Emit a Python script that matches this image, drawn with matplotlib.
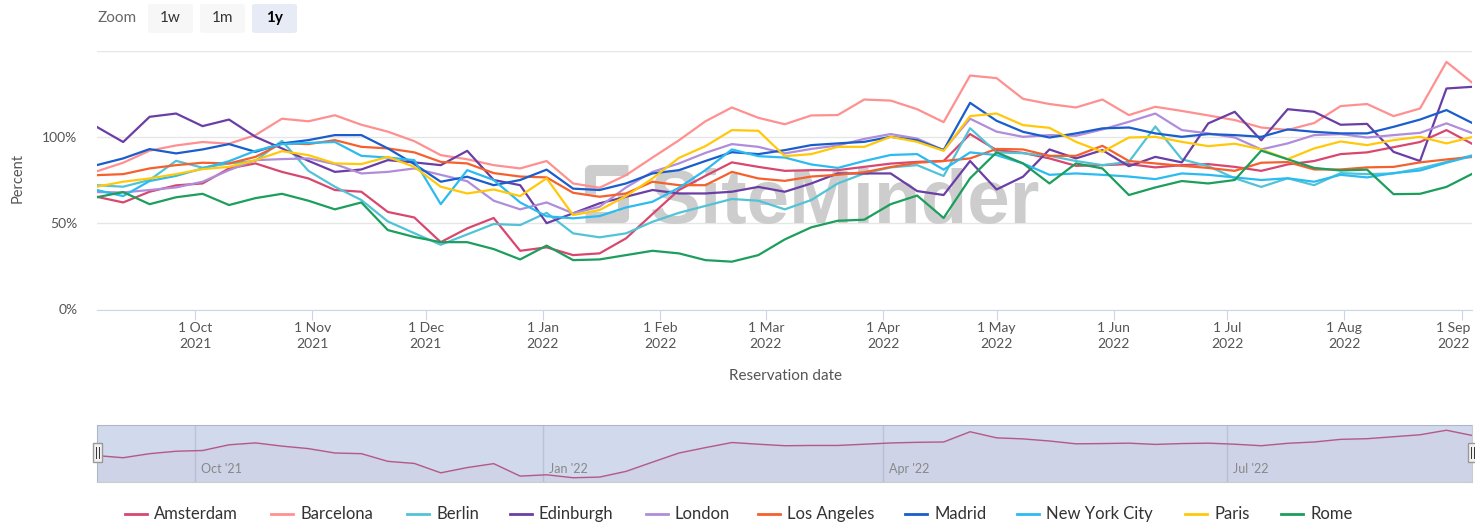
import numpy as np
import pandas as pd
import matplotlib
matplotlib.use("Agg")
import matplotlib.pyplot as plt
from matplotlib.patches import FancyBboxPatch, Rectangle
from matplotlib.lines import Line2D
from matplotlib.transforms import ScaledTranslation

plt.rcParams["font.family"] = ["Lato", "DejaVu Sans"]

#---------------------------------------------------------------------------
#                               DATA (weekly readings, percent)
#---------------------------------------------------------------------------

dates = pd.date_range("2021-09-05", periods=53, freq="7D")

amsterdam = [65.3, 62, 68.2, 71.9, 73, 81.7, 84.6, 79.7, 75.9, 69.2, 68.2, 56.5, 53.3, 39, 47, 53, 34, 36,
             31.5, 32.5, 41.2, 55.3, 69.2, 77.4, 85.2, 82.6, 80.3, 80.7, 80.7, 82.6, 84.5, 85.5, 86, 101.6,
             92.3, 90.7, 87.5, 83.2, 83.6, 84.2, 82.3, 83.6, 84.2, 82.6, 80.3, 84, 86, 90, 91, 94, 97, 103.9, 95.7]
barcelona = [80, 85, 92, 95, 97, 96, 101, 110.5, 109, 112.5, 107, 103, 97.5, 89.4, 87, 83.6, 81.7, 86,
             73, 70.5, 77.8, 88, 98, 109, 117, 111, 107.3, 112.4, 112.6, 121.6, 121, 116, 108.5, 135.5,
             134, 122, 119, 117, 121.6, 112.6, 117.4, 115, 112.4, 109.7, 105.4, 104, 108, 117.8, 119, 112, 116.4, 143.4, 131]
berlin = [72, 71.1, 75, 86.1, 82.1, 84.6, 86.1, 97.7, 80.3, 71.1, 63.4, 51, 44.2, 37.5, 43.5, 49.5, 48.9, 56,
          44.1, 41.8, 44.1, 50.8, 56, 60, 64, 63, 58, 63.4, 73, 78.8, 82.3, 83.6, 77.3, 105,
          91, 90.5, 89, 86, 83.6, 85.5, 106, 87, 83, 76, 71, 76, 72, 79, 78.4, 78.8, 81.7, 85.5, 89.4]
edinburgh = [105.8, 97, 111.6, 113.5, 106.2, 110, 100, 93.3, 86.1, 79.7, 81.1, 86.5, 85.2, 83.6, 91.9, 75, 72, 50,
             55.7, 61.5, 65.3, 69.2, 67.2, 67.2, 68.2, 71, 68.2, 73, 78.8, 78.8, 78.8, 68.6, 66.3, 86,
             69.5, 76.9, 92.7, 87.5, 92.3, 83, 88.4, 85.2, 107.8, 114.5, 98, 116, 114.5, 107, 107.5, 91.3, 86, 128, 129]
london = [68, 67.8, 69.2, 70.7, 74, 80.7, 86.5, 87.1, 87.5, 84.2, 78.8, 79.7, 81.7, 78, 74.3, 63, 58, 62,
          55.7, 59.5, 70.7, 79.7, 84.6, 90.7, 95.8, 94.2, 90.4, 93, 95, 98.8, 101.6, 99, 92.3, 110.5,
          103, 100, 101, 100.6, 104.3, 108.7, 113.5, 103.9, 102, 99.6, 92.7, 96.2, 101, 101.6, 99.6, 101, 102.3, 107.8, 102]
los_angeles = [77.8, 78.4, 81.7, 83.6, 85, 84.6, 88.4, 96.2, 95.8, 98.1, 94.2, 93.3, 91, 85.5, 84.6, 79, 77, 76.5,
               67.6, 65.3, 67.2, 74, 72, 72, 79.7, 75.9, 74.5, 77, 78, 79.5, 82.5, 85, 86, 87.5,
               93, 92.7, 89, 89, 94.8, 86, 84.6, 83.2, 82, 80.3, 85, 85.4, 81.1, 81.1, 82.3, 82.6, 85.2, 86.9, 88.4]
madrid = [83.6, 87.5, 92.9, 90.4, 92.7, 95.8, 91.3, 96.2, 98.1, 101, 101, 93.3, 84.2, 74, 76.9, 72, 75, 81,
          70, 69.2, 73, 78.8, 80.7, 86, 91.1, 90, 92.3, 95.2, 96.2, 97.1, 100, 98, 92.3, 119.7,
          109.3, 102.9, 99.6, 102, 104.9, 105.4, 102, 100, 101.6, 101, 100, 104.3, 102.9, 102, 102, 105.8, 110, 115.5, 107.8]
new_york = [69.2, 65.7, 74.4, 77.4, 81.7, 85.9, 91.9, 95.8, 96.5, 97, 89, 88, 86.5, 61, 80.7, 75, 62, 54,
            52.8, 54.1, 59.1, 62.4, 70.5, 80.7, 92.7, 88.8, 88, 84, 82, 86, 89.5, 90, 81, 91,
            89.4, 84.6, 78, 78.8, 78, 77, 75.5, 78.8, 78, 76.5, 75, 76, 74, 78, 76.5, 79, 80.5, 85, 89]
paris = [71.1, 74, 75.9, 78.4, 81.3, 82.6, 86.5, 91.7, 89.4, 84.6, 84.2, 88.4, 82.6, 71.1, 67.2, 69.5, 65.7, 76,
         54.7, 57.6, 65.7, 75.9, 87.8, 94.6, 103.9, 103.5, 88.8, 90, 94.2, 94.2, 100, 97.1, 91.9, 112,
         113.5, 106.8, 105.2, 97.1, 91.3, 99.6, 100, 97.1, 94.6, 96, 92.7, 87.1, 93.3, 97.3, 95.2, 98.1, 100, 96.2, 100]
rome = [65, 68, 61, 65, 67, 60.5, 64.5, 67, 63, 58, 62, 46, 42, 39, 39, 35, 29, 37,
        28.6, 29, 31.5, 34, 32.5, 28.6, 27.7, 31.5, 40.6, 47.6, 51.4, 52, 61, 66, 53, 76,
        91, 84.6, 73, 84.6, 81.7, 66.3, 70.7, 74.4, 73, 75, 92, 87, 82, 80.5, 81, 66.8, 67, 71, 78.8]

cities = ["Amsterdam", "Barcelona", "Berlin", "Edinburgh", "London",
          "Los Angeles", "Madrid", "New York City", "Paris", "Rome"]
series = [amsterdam, barcelona, berlin, edinburgh, london,
          los_angeles, madrid, new_york, paris, rome]
colors = ["#d8476f", "#ff9090", "#52c3d6", "#6a3ea5", "#b08ddb",
          "#f5602c", "#1a5dcc", "#2bbbf0", "#ffc90a", "#1c9e5c"]

y_ticks = [0, 50, 100, 150]
y_tick_labels = ["0%", "50%", "100%", ""]
month_ticks = pd.date_range("2021-10-01", "2022-09-01", freq="MS")
nav_ticks = pd.to_datetime(["2021-10-01", "2022-01-01", "2022-04-01", "2022-07-01"])
nav_labels = ["Oct '21", "Jan '22", "Apr '22", "Jul '22"]

#---------------------------------------------------------------------------
#                               LAYOUT HELPERS (pixels)
#---------------------------------------------------------------------------

W, H = 1475, 524

def fx(px):
    return px / W

def fy(py):
    return 1 - py / H

fig = plt.figure(figsize=(W / 100, H / 100), dpi=100)
fig.patch.set_facecolor("white")

x_min = pd.Timestamp("2021-09-05 02:00")
x_max = pd.Timestamp("2022-09-03 18:00")

# main plot
ax = fig.add_axes([fx(97), fy(309.5), fx(1472) - fx(97), fy(50.5) - fy(309.5)])
for name, vals, c in zip(cities, series, colors):
    ax.plot(dates, vals, color=c, lw=1.6, zorder=3, solid_joinstyle="round")

ax.set_xlim(x_min, x_max)
ax.set_ylim(0, 150)
ax.set_yticks(y_ticks)
ax.set_yticklabels(y_tick_labels)
ax.set_xticks(month_ticks)
ax.set_xticklabels(["1 {}\n{}".format(d.strftime("%b"), d.year) for d in month_ticks],
                   linespacing=1.45)
ax.grid(axis="y", color="#e6e6e6", lw=1, zorder=0)
ax.set_axisbelow(True)
for s in ["top", "right", "left"]:
    ax.spines[s].set_visible(False)
ax.spines["bottom"].set_color("#ccd6eb")
ax.tick_params(axis="x", length=7, color="#ccd6eb", labelsize=10, labelcolor="#555555", pad=2)
ax.tick_params(axis="y", length=0, labelsize=10, labelcolor="#555555", pad=14)

# keep the last date label inside the picture
last = ax.get_xticklabels()[-1]
last.set_transform(last.get_transform() + ScaledTranslation(-0.08, 0, fig.dpi_scale_trans))

# watermark
ax.text(fx(650), fy(223), "SiteMinder", transform=fig.transFigure, fontsize=55,
        fontweight="bold", family="Liberation Sans", color="#cdcdcd", zorder=1)
ax.plot([fx(628), fx(590), fx(590)], [fy(170), fy(170), fy(194)], transform=fig.transFigure,
        color="#cdcdcd", lw=8, solid_capstyle="butt", zorder=1, clip_on=False)
ax.plot([fx(585), fx(623), fx(623)], [fy(217), fy(217), fy(193)], transform=fig.transFigure,
        color="#cdcdcd", lw=8, solid_capstyle="butt", zorder=1, clip_on=False)

fig.text(fx(18), fy(178), "Percent", rotation=90, ha="center", va="center",
         fontsize=10.5, color="#555555")
fig.text(fx(785), fy(376), "Reservation date", ha="center", va="center",
         fontsize=11, color="#555555")

# zoom buttons
fig.text(fx(98), fy(18), "Zoom", ha="left", va="center", fontsize=11, color="#666666")
for label, x0, fc in [("1w", 148, "#f7f7f7"), ("1m", 200, "#f7f7f7"), ("1y", 252, "#e6ebf5")]:
    fig.patches.append(FancyBboxPatch((fx(x0), fy(33)), fx(45), fy(4) - fy(33),
                                      boxstyle="round,pad=0,rounding_size=0.003",
                                      transform=fig.transFigure, fc=fc, ec="none"))
    fig.text(fx(x0 + 22.5), fy(18), label, ha="center", va="center", fontsize=11,
             color="#000000" if label == "1y" else "#333333",
             fontweight="bold" if label == "1y" else "normal")

# navigator
nav = fig.add_axes([fx(97), fy(482), fx(1472) - fx(97), fy(425) - fy(482)])
nav.set_xlim(x_min, x_max)
lo, hi = min(amsterdam), max(amsterdam)
r = hi - lo
nav.set_ylim(lo - 0.09 * r, hi + 0.11 * r)
for d in nav_ticks:
    nav.axvline(d, color="#e0e0e0", lw=1, zorder=1)
nav.plot(dates, amsterdam, color=colors[0], lw=1, zorder=2)
nav.fill_between(dates, amsterdam, lo - r, color=colors[0], alpha=0.05, zorder=2)
nav.axvspan(x_min, x_max, color=(102 / 255, 133 / 255, 194 / 255), alpha=0.3, lw=0, zorder=3)
nav.set_xticks([])
nav.set_yticks([])
for s in nav.spines.values():
    s.set_color("#cccccc")
for d, lab in zip(nav_ticks, nav_labels):
    nav.text(d + pd.Timedelta(days=1.5), 0.22, lab, transform=nav.get_xaxis_transform(),
             fontsize=9, color="#888888", ha="left", va="center", zorder=4)

# navigator handles
for hx in [97, 1472]:
    fig.patches.append(Rectangle((fx(hx - 4.5), fy(462)), fx(9), fy(443) - fy(462),
                                 transform=fig.transFigure, fc="#f2f2f2", ec="#999999", lw=1))
    for off in [-1.5, 1.5]:
        fig.lines.append(Line2D([fx(hx + off), fx(hx + off)], [fy(447), fy(458)],
                                transform=fig.transFigure, color="#333333", lw=0.7))

# legend
legend_x = [154, 300, 436, 539, 675, 787, 934, 1046, 1214, 1310]
for name, c, tx in zip(cities, colors, legend_x):
    fig.lines.append(Line2D([fx(tx - 29), fx(tx - 7)], [fy(514), fy(514)],
                            transform=fig.transFigure, color=c, lw=2))
    fig.text(fx(tx), fy(514), name, ha="left", va="center", fontsize=12, color="#333333")

plt.savefig("out.png", dpi=100)
plt.close()
